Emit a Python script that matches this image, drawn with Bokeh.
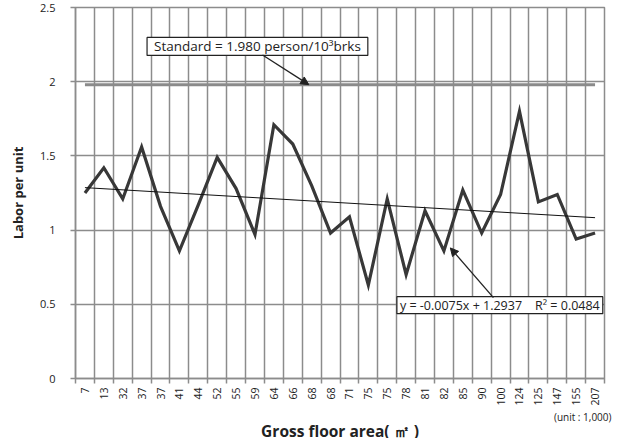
import numpy as np
from bokeh.plotting import figure
from bokeh.models import Range1d, FixedTicker, Label, Arrow, NormalHead, Title
from bokeh.embed import file_html
from bokeh.resources import INLINE

# ---- data ----
areas = ["7", "13", "32", "37", "37", "41", "44", "52", "55", "59", "64", "66", "68", "68",
         "71", "75", "75", "78", "81", "82", "85", "90", "100", "124", "125", "147", "155", "207"]
labor = [1.25, 1.42, 1.21, 1.56, 1.16, 0.86, 1.17, 1.49, 1.28, 0.97, 1.71, 1.58, 1.30, 0.98,
         1.09, 0.63, 1.21, 0.70, 1.13, 0.86, 1.27, 0.98, 1.24, 1.80, 1.19, 1.24, 0.94, 0.98]
standard = 1.98
trend_slope = -0.0075
trend_intercept = 1.2937
r_squared = 0.0484
y_ticks = [0, 0.5, 1, 1.5, 2, 2.5]
y_tick_labels = ["0", "0.5", "1", "1.5", "2", "2.5"]

FONT = "Open Sans"
GRID = "#8c8c8c"
NB = "\u00a0"

n = len(areas)
xs = list(range(1, n + 1))
bounds = [i + 0.5 for i in range(0, n + 1)]

p = figure(width=617, height=438, output_backend="svg", toolbar_location=None,
           x_range=Range1d(0.5, n + 0.5), y_range=Range1d(0, 2.5),
           min_border_left=75, min_border_right=13, min_border_top=7, min_border_bottom=59)
p.background_fill_color = "white"
p.border_fill_color = "white"
p.outline_line_color = GRID
p.outline_line_width = 1.5

# grids
p.xgrid.ticker = FixedTicker(ticks=bounds)
p.ygrid.ticker = FixedTicker(ticks=y_ticks)
for g in (p.xgrid, p.ygrid):
    g.grid_line_color = GRID
    g.grid_line_width = 1.5

# x axis
xa = p.xaxis[0]
xa.ticker = FixedTicker(ticks=xs, minor_ticks=bounds)
xa.major_label_overrides = {x: a for x, a in zip(xs, areas)}
xa.major_label_orientation = np.pi / 2
xa.major_tick_out = 0
xa.major_tick_in = 0
xa.minor_tick_out = 5
xa.minor_tick_in = 0
xa.minor_tick_line_color = GRID
xa.minor_tick_line_width = 1.5
xa.axis_line_color = GRID
xa.axis_line_width = 1.5
xa.major_label_standoff = 4
xa.major_label_text_font = FONT
xa.major_label_text_font_size = "10.5px"
xa.major_label_text_color = "#222222"

# y axis
ya = p.yaxis[0]
ya.ticker = FixedTicker(ticks=y_ticks)
ya.major_label_overrides = {t: s for t, s in zip(y_ticks, y_tick_labels)}
ya.major_tick_out = 5
ya.major_tick_in = 0
ya.minor_tick_out = 0
ya.minor_tick_in = 0
ya.major_tick_line_color = GRID
ya.major_tick_line_width = 1.5
ya.axis_line_color = GRID
ya.axis_line_width = 1.5
ya.major_label_standoff = 15
ya.major_label_text_font = FONT
ya.major_label_text_font_size = "11px"
ya.major_label_text_color = "#222222"
ya.axis_label = "Labor per unit"
ya.axis_label_text_font = FONT
ya.axis_label_text_font_style = "bold"
ya.axis_label_text_font_size = "13px"
ya.axis_label_text_color = "#222222"
ya.axis_label_standoff = 10

# bottom texts: unit note, then the axis title
p.add_layout(Title(text="(unit : 1,000)", align="right", text_font=FONT,
                   text_font_size="10px", text_font_style="normal",
                   text_color="#222222", standoff=-2, offset=-7), "below")
p.add_layout(Title(text="Gross floor area( ㎡ )", align="center", vertical_align="middle",
                   text_font=FONT, text_font_size="15.5px", text_font_style="bold",
                   text_color="#222222", standoff=-8), "below")

# standard line
p.line([xs[0], xs[-1]], [standard, standard], line_color="#8a8a8a", line_width=3)

# data line
p.line(xs, labor, line_color="#383838", line_width=3.2, line_join="miter")

# trend line
tx = np.array([xs[0], xs[-1]], dtype=float)
p.line(tx, trend_slope * tx + trend_intercept, line_color="#111111", line_width=1)

# callouts
std_label = Label(x=10.13, y=2.238, text="Standard = %.3f person/10³brks" % standard,
                  text_align="center", text_baseline="middle",
                  text_font=FONT, text_font_size="13.5px", text_color="#222222",
                  border_line_color="#222222", border_line_width=1.2,
                  background_fill_color="white",
                  padding=dict(left=7, right=7, top=0, bottom=0))
p.add_layout(std_label)

eq_text = ("y = %.4fx + %.4f" % (trend_slope, trend_intercept)) + NB * 4 + ("R² = %.4f" % r_squared)
eq_label = Label(x=22.96, y=0.494, text=eq_text,
                 text_align="center", text_baseline="middle",
                 text_font=FONT, text_font_size="12.5px", text_color="#222222",
                 border_line_color="#222222", border_line_width=1.2,
                 background_fill_color="white",
                 padding=dict(left=3, right=3, top=0, bottom=0))
p.add_layout(eq_label)

p.add_layout(Arrow(end=NormalHead(size=8, fill_color="#222222", line_color="#222222"),
                   x_start=10.4, y_start=2.18, x_end=12.85, y_end=standard,
                   line_color="#222222", line_width=1.3))
p.add_layout(Arrow(end=NormalHead(size=8, fill_color="#222222", line_color="#222222"),
                   x_start=22.62, y_start=0.545, x_end=20.34, y_end=0.88,
                   line_color="#222222", line_width=1.3))

open("out.html", "w").write(file_html(p, INLINE))
